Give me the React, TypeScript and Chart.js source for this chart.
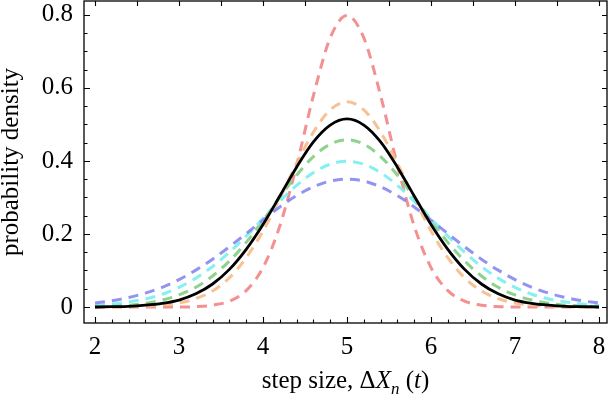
import React, { useEffect, useRef } from 'react';
import { Chart, registerables } from 'chart.js';

Chart.register(...registerables);

// ---- data ----
const X = [2.0, 2.2, 2.4, 2.6, 2.8, 3.0, 3.2, 3.4, 3.6, 3.8, 4.0, 4.2, 4.4, 4.6, 4.8, 5.0,
  5.2, 5.4, 5.6, 5.8, 6.0, 6.2, 6.4, 6.6, 6.8, 7.0, 7.2, 7.4, 7.6, 7.8, 8.0];

const RED = [0, 0, 0, 0, 0, 0, 0.001, 0.005, 0.016, 0.045, 0.108, 0.222, 0.388, 0.579, 0.737, 0.798,
  0.737, 0.579, 0.388, 0.222, 0.108, 0.045, 0.016, 0.005, 0.001, 0, 0, 0, 0, 0, 0];
const ORANGE = [0, 0, 0.001, 0.002, 0.005, 0.011, 0.023, 0.044, 0.080, 0.135, 0.208, 0.298, 0.393, 0.479, 0.540, 0.562,
  0.540, 0.479, 0.393, 0.298, 0.208, 0.135, 0.080, 0.044, 0.023, 0.011, 0.005, 0.002, 0.001, 0, 0];
const GREEN = [0.001, 0.003, 0.005, 0.010, 0.019, 0.033, 0.054, 0.085, 0.126, 0.177, 0.237, 0.300, 0.361, 0.412, 0.446, 0.458,
  0.446, 0.412, 0.361, 0.300, 0.237, 0.177, 0.126, 0.085, 0.054, 0.033, 0.019, 0.010, 0.005, 0.003, 0.001];
const CYAN = [0.004, 0.008, 0.014, 0.022, 0.035, 0.054, 0.079, 0.111, 0.150, 0.194, 0.242, 0.290, 0.333, 0.368, 0.391, 0.399,
  0.391, 0.368, 0.333, 0.290, 0.242, 0.194, 0.150, 0.111, 0.079, 0.054, 0.035, 0.022, 0.014, 0.008, 0.004];
const BLUE = [0.011, 0.017, 0.026, 0.038, 0.054, 0.075, 0.101, 0.131, 0.165, 0.201, 0.238, 0.274, 0.305, 0.329, 0.345, 0.350,
  0.345, 0.329, 0.305, 0.274, 0.238, 0.201, 0.165, 0.131, 0.101, 0.075, 0.054, 0.038, 0.026, 0.017, 0.011];
const BLACK = [0, 0.001, 0.002, 0.005, 0.010, 0.019, 0.036, 0.063, 0.103, 0.158, 0.226, 0.304, 0.383, 0.452, 0.498, 0.515,
  0.498, 0.452, 0.383, 0.304, 0.226, 0.158, 0.103, 0.063, 0.036, 0.019, 0.010, 0.005, 0.002, 0.001, 0];

// ---- ticks ----
const X_LABELS = [2, 3, 4, 5, 6, 7, 8];
const X_MINOR = [2.2, 2.4, 2.6, 2.8, 3.2, 3.4, 3.6, 3.8, 4.2, 4.4, 4.6, 4.8, 5.2, 5.4, 5.6, 5.8,
  6.2, 6.4, 6.6, 6.8, 7.2, 7.4, 7.6, 7.8];
const X_TOP = [2, 2.5, 3, 3.5, 4, 4.5, 5, 5.5, 6, 6.5, 7, 7.5, 8];
const Y_LABELS = [0, 0.2, 0.4, 0.6, 0.8];
const Y_MINOR = [0.05, 0.1, 0.15, 0.25, 0.3, 0.35, 0.45, 0.5, 0.55, 0.65, 0.7, 0.75];

const X_TITLE = ['step size, Δ', 'X', 'n', ' (', 't', ')'];
const Y_TITLE = 'probability density';

const FONT = '"Liberation Serif", "Times New Roman", serif';

export default function App() {
  const ref = useRef<HTMLCanvasElement>(null);

  useEffect(() => {
    const framePlugin = {
      id: 'mframe',
      afterDraw(chart: any) {
        const { ctx, chartArea: a, scales } = chart;
        const xs = scales.x;
        const ys = scales.y;
        ctx.save();
        ctx.strokeStyle = '#000';
        ctx.lineWidth = 1.3;
        ctx.strokeRect(a.left, a.top, a.right - a.left, a.bottom - a.top);
        ctx.beginPath();
        ctx.lineWidth = 1.1;
        const vTick = (v: number, len: number, bottom: boolean) => {
          const p = Math.round(xs.getPixelForValue(v)) + 0.5;
          if (bottom) { ctx.moveTo(p, a.bottom); ctx.lineTo(p, a.bottom - len); }
          else { ctx.moveTo(p, a.top); ctx.lineTo(p, a.top + len); }
        };
        const hTick = (v: number, len: number, left: boolean) => {
          const p = Math.round(ys.getPixelForValue(v)) + 0.5;
          if (left) { ctx.moveTo(a.left, p); ctx.lineTo(a.left + len, p); }
          else { ctx.moveTo(a.right, p); ctx.lineTo(a.right - len, p); }
        };
        X_LABELS.forEach(v => vTick(v, 6, true));
        X_MINOR.forEach(v => vTick(v, 3.5, true));
        X_TOP.forEach(v => vTick(v, 5, false));
        Y_LABELS.forEach(v => { hTick(v, 6, true); hTick(v, 5, false); });
        Y_MINOR.forEach(v => { hTick(v, 3.5, true); hTick(v, 3.5, false); });
        ctx.stroke();

        // x-axis title with italic / subscript pieces
        const styles = [
          { font: `25px ${FONT}`, dy: 0 },
          { font: `italic 25px ${FONT}`, dy: 0 },
          { font: `italic 17px ${FONT}`, dy: 6 },
          { font: `25px ${FONT}`, dy: 0 },
          { font: `italic 25px ${FONT}`, dy: 0 },
          { font: `25px ${FONT}`, dy: 0 },
        ];
        let total = 0;
        const widths = X_TITLE.map((t, i) => {
          ctx.font = styles[i].font;
          const w = ctx.measureText(t).width;
          total += w;
          return w;
        });
        let cx = (a.left + a.right) / 2 - total / 2;
        const baseY = 388;
        ctx.fillStyle = '#000';
        ctx.textBaseline = 'alphabetic';
        ctx.textAlign = 'left';
        X_TITLE.forEach((t, i) => {
          ctx.font = styles[i].font;
          ctx.fillText(t, cx, baseY + styles[i].dy);
          cx += widths[i];
        });
        ctx.restore();
      },
    };

    const dashed = (data: number[], color: string) => ({
      data: X.map((x, i) => ({ x, y: data[i] })),
      borderColor: color,
      borderWidth: 3,
      borderDash: [10, 7],
      pointRadius: 0,
      fill: false,
      cubicInterpolationMode: 'monotone' as const,
    });

    const chart = new Chart(ref.current!, {
      type: 'line',
      data: {
        datasets: [
          {
            data: X.map((x, i) => ({ x, y: BLACK[i] })),
            borderColor: '#000',
            borderWidth: 2.8,
            pointRadius: 0,
            fill: false,
            cubicInterpolationMode: 'monotone',
          },
          dashed(BLUE, 'rgba(128,128,240,0.85)'),
          dashed(CYAN, 'rgba(120,238,238,0.9)'),
          dashed(GREEN, 'rgba(130,205,130,0.9)'),
          dashed(ORANGE, 'rgba(246,186,134,0.9)'),
          dashed(RED, 'rgba(242,132,132,0.9)'),
        ],
      },
      options: {
        responsive: false,
        animation: false,
        layout: { padding: { top: 1, right: 3, left: 0, bottom: 0 } },
        plugins: { legend: { display: false }, tooltip: { enabled: false } },
        scales: {
          x: {
            type: 'linear',
            min: 1.869,
            max: 8.095,
            grid: { display: false, drawTicks: false },
            border: { display: false },
            afterBuildTicks: (s: any) => { s.ticks = X_LABELS.map(v => ({ value: v })); },
            afterFit: (s: any) => { s.height = 86; s.paddingLeft = 0; s.paddingRight = 0; },
            ticks: {
              padding: 9,
              maxRotation: 0,
              color: '#000',
              font: { family: FONT, size: 25 },
              callback: (v: any) => String(v),
            },
          },
          y: {
            type: 'linear',
            min: -0.0438,
            max: 0.838,
            grid: { display: false, drawTicks: false },
            border: { display: false },
            afterBuildTicks: (s: any) => { s.ticks = Y_LABELS.map(v => ({ value: v })); },
            afterFit: (s: any) => { s.width = 84; s.paddingTop = 0; s.paddingBottom = 0; },
            title: {
              display: true,
              text: Y_TITLE,
              color: '#000',
              padding: 0,
              font: { family: FONT, size: 25, lineHeight: 0.9 },
            },
            ticks: {
              padding: 11,
              color: '#000',
              font: { family: FONT, size: 25 },
              callback: (v: any) => String(v),
            },
          },
        },
      },
      plugins: [framePlugin],
    });
    return () => chart.destroy();
  }, []);

  return (
    <div style={{ position: 'fixed', left: 0, top: 0, width: 610, height: 409, background: '#fff' }}>
      <canvas ref={ref} width={610} height={409} style={{ display: 'block' }} />
    </div>
  );
}
